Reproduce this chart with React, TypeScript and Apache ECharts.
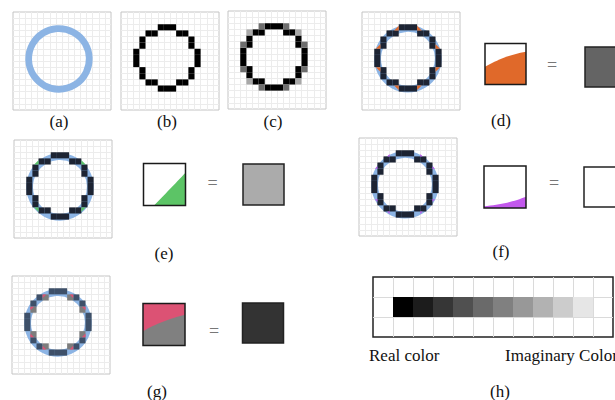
import React, { useEffect, useRef } from "react";
import * as echarts from "echarts";

// ---------- data ----------
const panelLabels = ["(a)", "(b)", "(c)", "(d)", "(e)", "(f)", "(g)", "(h)"];
const scaleLabels = ["Real color", "Imaginary Color"];

// ideal circle: [centerCol, centerRow, radius, width] in pixel-cell units
const idealCircle = [[7.5, 7.5, 4.95, 1.1]];

// rasterised ring pixels [col, row]
const ringPixels = [
  [6, 2], [7, 2], [8, 2],
  [4, 3], [5, 3], [9, 3], [10, 3],
  [3, 4], [11, 4], [3, 5], [11, 5],
  [2, 6], [12, 6], [2, 7], [12, 7], [2, 8], [12, 8],
  [3, 9], [11, 9], [3, 10], [11, 10],
  [4, 11], [5, 11], [9, 11], [10, 11],
  [6, 12], [7, 12], [8, 12],
];

// anti-aliased pixels of (c)
const aaMidGray = [[5, 2], [9, 2], [2, 5], [12, 5], [2, 9], [12, 9], [5, 12], [9, 12]];
const aaLightGray = [[3, 3], [11, 3], [3, 11], [11, 11]];

// partial coverage [col, row, fraction, inward(1)/outward(0)]
const orangeParts = [
  [5, 2, 0.75, 1], [9, 2, 0.75, 1], [2, 5, 0.75, 1], [12, 5, 0.75, 1],
  [2, 9, 0.75, 1], [12, 9, 0.75, 1], [5, 12, 0.75, 1], [9, 12, 0.75, 1],
];
const greenParts = [[3, 3, 0.7, 1], [11, 3, 0.7, 1], [3, 11, 0.7, 1], [11, 11, 0.7, 1]];
const purpleParts = [
  [4, 2, 0.4, 1], [10, 2, 0.4, 1], [2, 4, 0.4, 1], [12, 4, 0.4, 1],
  [2, 10, 0.4, 1], [12, 10, 0.4, 1], [4, 12, 0.4, 1], [10, 12, 0.4, 1],
];
const grayCellsG = [[5, 3], [9, 3], [3, 5], [11, 5], [3, 9], [11, 9], [5, 11], [9, 11]];
const pinkParts = [
  [5, 3, 0.6, 0], [9, 3, 0.6, 0], [3, 5, 0.6, 0], [11, 5, 0.6, 0],
  [3, 9, 0.6, 0], [11, 9, 0.6, 0], [5, 11, 0.6, 0], [9, 11, 0.6, 0],
];

// (h) grayscale strip: columns and gray levels
const hColumns = [1, 2, 3, 4, 5, 6, 7, 8, 9, 10];
const hGrayLevels = [0, 28, 54, 80, 106, 128, 152, 178, 204, 230];

// ---------- layout ----------
const panelBoxes = [
  { left: 13, top: 12 },  // a
  { left: 121, top: 12 }, // b
  { left: 228, top: 11 }, // c
  { left: 362, top: 12 }, // d
  { left: 14, top: 140 }, // e
  { left: 359, top: 138 },// f
  { left: 12, top: 276 }, // g
];
const PANEL = 98;
const CELLS = 16;

const C_BLUE = "#8cb4e4";
const C_DARK = "#1d2433";
const C_SLATE = "#3e5069";

function cellSeries(gi: number, data: number[][], color: string) {
  return {
    type: "custom",
    xAxisIndex: gi,
    yAxisIndex: gi,
    silent: true,
    data,
    renderItem: (params: any, api: any) => {
      const c = api.value(0);
      const r = api.value(1);
      const p0 = api.coord([c, r]);
      const p1 = api.coord([c + 1, r + 1]);
      return {
        type: "rect",
        shape: {
          x: Math.min(p0[0], p1[0]),
          y: Math.min(p0[1], p1[1]),
          width: Math.abs(p1[0] - p0[0]),
          height: Math.abs(p1[1] - p0[1]),
        },
        style: { fill: color },
      };
    },
  };
}

function circleSeries(gi: number, color: string) {
  return {
    type: "custom",
    xAxisIndex: gi,
    yAxisIndex: gi,
    silent: true,
    data: idealCircle,
    renderItem: (params: any, api: any) => {
      const c = api.coord([api.value(0), api.value(1)]);
      const r = api.size([api.value(2), 0])[0];
      const w = api.size([api.value(3), 0])[0];
      return {
        type: "circle",
        shape: { cx: c[0], cy: c[1], r },
        style: { fill: "none", stroke: color, lineWidth: w },
      };
    },
  };
}

function partSeries(gi: number, data: number[][], color: string) {
  return {
    type: "custom",
    xAxisIndex: gi,
    yAxisIndex: gi,
    silent: true,
    data,
    renderItem: (params: any, api: any) => {
      const col = api.value(0);
      const row = api.value(1);
      const f = api.value(2);
      const inward = api.value(3) === 1;
      const mid = idealCircle[0][0];
      const towardRight = col + 0.5 < mid;
      const towardBottom = row + 0.5 < mid;
      const useRight = inward ? towardRight : !towardRight;
      const useBottom = inward ? towardBottom : !towardBottom;
      const cx = useRight ? col + 1 : col;
      const cy = useBottom ? row + 1 : row;
      const ex = useRight ? -1 : 1;
      const ey = useBottom ? -1 : 1;
      const pts = [
        api.coord([cx, cy]),
        api.coord([cx + ex * f, cy]),
        api.coord([cx, cy + ey * f]),
      ];
      return { type: "polygon", shape: { points: pts }, style: { fill: color } };
    },
  };
}

function hSeries(gi: number) {
  return {
    type: "custom",
    xAxisIndex: gi,
    yAxisIndex: gi,
    silent: true,
    data: hColumns.map((c, i) => [c, 1, hGrayLevels[i]]),
    renderItem: (params: any, api: any) => {
      const c = api.value(0);
      const r = api.value(1);
      const v = api.value(2);
      const p0 = api.coord([c, r]);
      const p1 = api.coord([c + 1, r + 1]);
      return {
        type: "rect",
        shape: { x: p0[0], y: Math.min(p0[1], p1[1]), width: p1[0] - p0[0], height: Math.abs(p1[1] - p0[1]) },
        style: { fill: `rgb(${v},${v},${v})` },
      };
    },
  };
}

function quadPoly(x: number, y: number, w: number, h: number, p0: number[], p1: number[], p2: number[], close: number[][]) {
  const pts: number[][] = [];
  const n = 16;
  for (let i = 0; i <= n; i++) {
    const t = i / n;
    const a = (1 - t) * (1 - t), b = 2 * t * (1 - t), c = t * t;
    const fx = a * p0[0] + b * p1[0] + c * p2[0];
    const fy = a * p0[1] + b * p1[1] + c * p2[1];
    pts.push([x + fx * w, y + fy * h]);
  }
  close.forEach((p) => pts.push([x + p[0] * w, y + p[1] * h]));
  return pts;
}

function operandSquare(x: number, y: number, s: number, base: string, fillColor: string, p0: number[], p1: number[], p2: number[], close: number[][]) {
  return [
    { type: "rect", shape: { x, y, width: s, height: s }, style: { fill: base } },
    { type: "polygon", shape: { points: quadPoly(x, y, s, s, p0, p1, p2, close) }, style: { fill: fillColor } },
    { type: "rect", shape: { x, y, width: s, height: s }, style: { fill: "none", stroke: "#1a1a1a", lineWidth: 1.5 } },
  ];
}

function resultSquare(x: number, y: number, w: number, h: number, color: string) {
  return { type: "rect", shape: { x, y, width: w, height: h }, style: { fill: color, stroke: "#222", lineWidth: 1.5 } };
}

const FONT = '17px "Liberation Serif", "Times New Roman", serif';
function label(text: string, x: number, y: number, align = "center") {
  return {
    type: "text",
    x,
    y,
    style: { text, font: FONT, fill: "#111", textAlign: align, textVerticalAlign: "middle" },
  };
}
function eq(x: number, y: number) {
  return {
    type: "text",
    x,
    y,
    style: { text: "=", font: '18px "Liberation Serif", serif', fill: "#777", textAlign: "center", textVerticalAlign: "middle" },
  };
}

export default function App() {
  const ref = useRef<HTMLDivElement>(null);
  useEffect(() => {
    if (!ref.current) return;
    const chart = echarts.init(ref.current, null, { renderer: "svg" });

    const grids: any[] = panelBoxes.map((b) => ({
      left: b.left, top: b.top, width: PANEL, height: PANEL,
      show: true, borderColor: "#c4c4c4", borderWidth: 1, backgroundColor: "#fff",
    }));
    grids.push({ left: 373, top: 277, width: 240, height: 60, show: true, borderColor: "#222", borderWidth: 1.5, backgroundColor: "#fff" });

    const axisCommon = (gi: number, max: number, color: string) => ({
      type: "value", gridIndex: gi, min: 0, max, interval: 1,
      axisLine: { show: false }, axisTick: { show: false }, axisLabel: { show: false },
      splitLine: { show: true, showMinLine: false, showMaxLine: false, lineStyle: { color, width: 1 } },
    });
    const xAxis: any[] = [];
    const yAxis: any[] = [];
    for (let i = 0; i < 7; i++) {
      xAxis.push(axisCommon(i, CELLS, "#ececec"));
      yAxis.push({ ...axisCommon(i, CELLS, "#ececec"), inverse: true });
    }
    xAxis.push(axisCommon(7, 12, "#dadada"));
    yAxis.push({ ...axisCommon(7, 3, "#dadada"), inverse: true });

    const ringG = ringPixels.filter((p) => !grayCellsG.some((g) => g[0] === p[0] && g[1] === p[1]));

    const series: any[] = [
      circleSeries(0, C_BLUE),
      cellSeries(1, ringPixels, "#000"),
      cellSeries(2, ringPixels, "#000"),
      cellSeries(2, aaMidGray, "#6e6e6e"),
      cellSeries(2, aaLightGray, "#a8a8a8"),
      circleSeries(3, C_BLUE),
      cellSeries(3, ringPixels, C_DARK),
      partSeries(3, orangeParts, "#e06a2c"),
      circleSeries(4, C_BLUE),
      cellSeries(4, ringPixels, C_DARK),
      partSeries(4, greenParts, "#5cc466"),
      circleSeries(5, C_BLUE),
      cellSeries(5, ringPixels, C_DARK),
      partSeries(5, purpleParts, "#c455ec"),
      circleSeries(6, C_BLUE),
      cellSeries(6, ringG, C_SLATE),
      cellSeries(6, grayCellsG, "#7d7d7d"),
      partSeries(6, pinkParts, "#dc5274"),
      hSeries(7),
    ];

    const graphic: any[] = [
      // (d)
      ...operandSquare(485, 43.5, 41, "#fff", "#e0692a", [0, 0.57], [0.45, 0.3], [1, 0.2], [[1, 1], [0, 1]]),
      eq(552, 65),
      resultSquare(585, 47, 42, 40, "#646464"),
      // (e)
      ...operandSquare(143.5, 163.5, 42, "#fff", "#5cc466", [0.25, 1], [0.62, 0.62], [1, 0.22], [[1, 1]]),
      eq(212.5, 183),
      resultSquare(243, 164, 41, 41, "#ababab"),
      // (f)
      ...operandSquare(484, 166, 42, "#fff", "#c258ec", [0, 0.96], [0.6, 0.9], [1, 0.73], [[1, 1], [0, 1]]),
      eq(554, 183),
      resultSquare(584, 167, 42, 40, "#fff"),
      // (g)
      ...operandSquare(143, 303.5, 42, "#dc5274", "#808080", [0, 0.66], [0.45, 0.4], [1, 0.27], [[1, 1], [0, 1]]),
      eq(214, 331),
      resultSquare(242.5, 303, 41, 40, "#333333"),
      // labels
      label(panelLabels[0], 59, 121),
      label(panelLabels[1], 167, 121),
      label(panelLabels[2], 273, 121),
      label(panelLabels[3], 501, 120),
      label(panelLabels[4], 164, 253),
      label(panelLabels[5], 501, 251),
      label(panelLabels[6], 157, 391),
      label(panelLabels[7], 500, 391),
      label(scaleLabels[0], 369, 355, "left"),
      label(scaleLabels[1], 505, 355, "left"),
    ];

    chart.setOption({
      animation: false,
      backgroundColor: "#fff",
      grid: grids,
      xAxis,
      yAxis,
      series,
      graphic,
    });
    return () => chart.dispose();
  }, []);
  return <div ref={ref} style={{ position: "absolute", left: 0, top: 0, width: 615, height: 400 }} />;
}
